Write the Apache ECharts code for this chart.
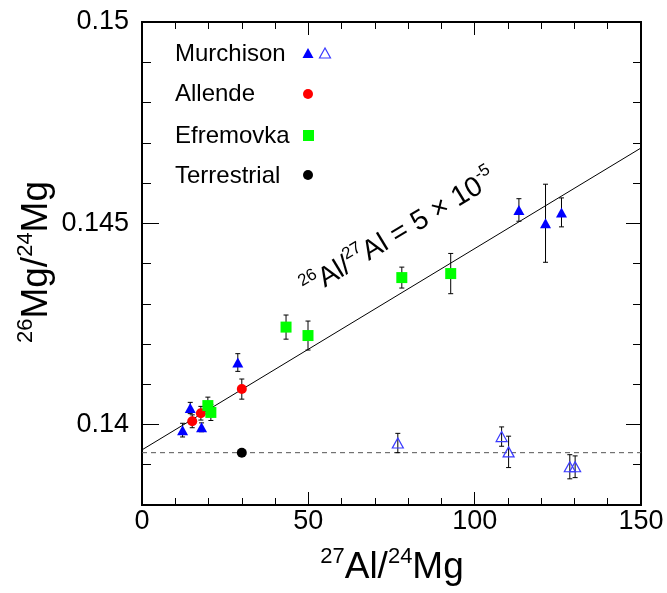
<!DOCTYPE html>
<html>
<head>
<meta charset="utf-8">
<script src="https://cdn.jsdelivr.net/npm/echarts@6/dist/echarts.min.js"></script>
<style>html,body{margin:0;padding:0;background:#fff}#c{width:667px;height:593px}</style>
</head>
<body>
<div id="c"></div>
<script>
// ---- data ----
const murchFilledX = [12.2, 14.5, 17.9, 28.8, 113.3, 121.3, 126.1];
const murchFilledY = [0.13986, 0.14041, 0.13993, 0.14154, 0.14533, 0.14500, 0.14527];
const murchFilledErr = [0.00017, 0.00014, 0.00011, 0.00022, 0.00028, 0.00097, 0.00036];
const murchOpenX = [76.9, 108.1, 110.2, 128.6, 130.2];
const murchOpenY = [0.13954, 0.13970, 0.13932, 0.13895, 0.13895];
const murchOpenErr = [0.00024, 0.00024, 0.00039, 0.00030, 0.00027];
const allendeX = [15.1, 17.7, 30.0];
const allendeY = [0.14008, 0.14028, 0.14088];
const allendeErr = [0.00016, 0.00017, 0.00025];
const efremX = [19.8, 20.7, 43.3, 49.9, 78.1, 92.8];
const efremY = [0.14047, 0.14030, 0.14242, 0.14221, 0.14365, 0.14375];
const efremErr = [0.00021, 0.00020, 0.00030, 0.00036, 0.00026, 0.00050];
const terrX = [30.0];
const terrY = [0.13930];
const isochronSlope = 5e-5;
const isochronIntercept = 0.13937;
const terrestrialRatio = 0.13930;
const yLabelValues = [0.14, 0.145, 0.15];
const yMajorTicks = [0.14, 0.145];
const legendNames = ['Murchison', 'Allende', 'Efremovka', 'Terrestrial'];

const FONT = 'Liberation Sans, Arial, Helvetica, sans-serif';
const zip = (xs, ys) => xs.map((x, i) => [x, ys[i]]);
const zip3 = (xs, ys, es) => xs.map((x, i) => [x, ys[i], es[i]]);

const errData = [].concat(
  zip3(murchFilledX, murchFilledY, murchFilledErr),
  zip3(murchOpenX, murchOpenY, murchOpenErr),
  zip3(allendeX, allendeY, allendeErr),
  zip3(efremX, efremY, efremErr)
);

const chart = echarts.init(document.getElementById('c'), null, {renderer: 'canvas'});

const baseX = {
  type: 'value', min: 0, max: 150, interval: 50,
  axisLine: {show: true, lineStyle: {color: '#000', width: 2}},
  axisTick: {show: true, inside: true, length: 13, lineStyle: {color: '#000', width: 1}},
  minorTick: {show: true, splitNumber: 5, length: 7, lineStyle: {color: '#000', width: 1}},
  splitLine: {show: false}, minorSplitLine: {show: false}
};
function yAx(pos, ticks, len, labels) {
  const a = {
    type: 'value', min: 0.138, max: 0.15, interval: 0.001, position: pos,
    axisLine: {show: true, onZero: false, lineStyle: {color: '#000', width: 2}},
    axisTick: {show: true, inside: true, length: len, lineStyle: {color: '#000', width: 1}},
    splitLine: {show: false},
    axisLabel: {show: false}
  };
  if (ticks) a.axisTick.customValues = ticks;
  if (labels) {
    a.axisLabel = {show: true, customValues: yLabelValues, fontSize: 27, color: '#000',
      fontFamily: FONT, margin: 13, formatter: v => String(+v.toFixed(4))};
  }
  return a;
}

const option = {
  animation: false,
  grid: {left: 142, top: 22, width: 499, height: 483, containLabel: false},
  xAxis: [
    Object.assign({}, baseX, {position: 'bottom',
      axisLabel: {show: true, fontSize: 27, color: '#000', fontFamily: FONT, margin: 3}}),
    Object.assign({}, baseX, {position: 'top', axisLabel: {show: false}})
  ],
  yAxis: [
    yAx('left', null, 9, true),
    yAx('left', yMajorTicks, 17, false),
    yAx('right', null, 8, false),
    yAx('right', yMajorTicks, 15, false)
  ],
  series: [
    {type: 'line', data: [[0, isochronIntercept], [150, isochronIntercept + 150 * isochronSlope]],
      symbol: 'none', lineStyle: {color: '#000', width: 1}, z: 1},
    {type: 'line', data: [[0, terrestrialRatio], [150, terrestrialRatio]],
      symbol: 'none', lineStyle: {color: '#555', width: 1, type: [5, 4]}, z: 1},
    {type: 'custom', data: errData, z: 2,
      renderItem: function (params, api) {
        const x = api.value(0), y = api.value(1), e = api.value(2);
        const top = api.coord([x, y + e]);
        const bot = api.coord([x, y - e]);
        const cw = 2.5;
        const st = {stroke: '#000', lineWidth: 1};
        return {type: 'group', children: [
          {type: 'line', shape: {x1: top[0], y1: top[1], x2: bot[0], y2: bot[1]}, style: st},
          {type: 'line', shape: {x1: top[0] - cw, y1: top[1], x2: top[0] + cw, y2: top[1]}, style: st},
          {type: 'line', shape: {x1: bot[0] - cw, y1: bot[1], x2: bot[0] + cw, y2: bot[1]}, style: st}
        ]};
      }},
    {type: 'scatter', name: 'Murchison', data: zip(murchFilledX, murchFilledY), symbol: 'triangle',
      symbolSize: [11, 10], itemStyle: {color: '#0000ff', opacity: 1}, z: 3},
    {type: 'scatter', name: 'Murchison open', data: zip(murchOpenX, murchOpenY), symbol: 'triangle',
      symbolSize: [11, 10], itemStyle: {color: 'rgba(0,0,0,0)', borderColor: '#3a3aff', borderWidth: 1.2, opacity: 1}, z: 3},
    {type: 'scatter', name: 'Allende', data: zip(allendeX, allendeY), symbol: 'circle',
      symbolSize: 10, itemStyle: {color: '#ff0000', opacity: 1}, z: 3},
    {type: 'scatter', name: 'Efremovka', data: zip(efremX, efremY), symbol: 'rect',
      symbolSize: 11, itemStyle: {color: '#00ff00', opacity: 1}, z: 3},
    {type: 'scatter', name: 'Terrestrial', data: zip(terrX, terrY), symbol: 'circle',
      symbolSize: 10, itemStyle: {color: '#000', opacity: 1}, z: 3}
  ],
  graphic: []
};

// legend (drawn as graphics)
const legY = [53, 93.5, 135, 175];
const g = [];
legendNames.forEach((n, i) => {
  g.push({type: 'text', x: 175, y: legY[i] + 1, style: {text: n, fontSize: 24, fontFamily: FONT, fill: '#000', verticalAlign: 'middle'}});
});
g.push({type: 'polygon', shape: {points: [[308, 48], [302.5, 58], [313.5, 58]]}, style: {fill: '#0000ff'}});
g.push({type: 'polygon', shape: {points: [[325, 48], [319.5, 58], [330.5, 58]]}, style: {fill: 'none', stroke: '#3a3aff', lineWidth: 1.2}});
g.push({type: 'circle', shape: {cx: 308, cy: 94, r: 5}, style: {fill: '#ff0000'}});
g.push({type: 'rect', shape: {x: 303, y: 130, width: 11, height: 11}, style: {fill: '#00ff00'}});
g.push({type: 'circle', shape: {cx: 308, cy: 175, r: 5}, style: {fill: '#000'}});

const supRich = {
  n: {fontSize: 37, fontFamily: FONT, fill: '#000', lineHeight: 40, verticalAlign: 'bottom'},
  s: {fontSize: 22, fontFamily: FONT, fill: '#000', lineHeight: 22, verticalAlign: 'top'}
};
// axis titles
g.push({type: 'text', x: 392, y: 566, style: {text: '{s|27}{n|Al/}{s|24}{n|Mg}', rich: supRich, align: 'center', verticalAlign: 'middle'}});
g.push({type: 'text', x: 35, y: 262, rotation: Math.PI / 2, style: {text: '{s|26}{n|Mg/}{s|24}{n|Mg}', rich: supRich, align: 'center', verticalAlign: 'middle'}});
// isochron annotation
const annRich = {
  n: {fontSize: 28, fontFamily: FONT, fill: '#000', lineHeight: 32, verticalAlign: 'bottom'},
  s: {fontSize: 17, fontFamily: FONT, fill: '#000', lineHeight: 17, verticalAlign: 'top'}
};
g.push({type: 'text', x: 398, y: 232, rotation: Math.atan2(2.0125, 3.327),
  style: {text: '{s|26}{n|Al/}{s|27}{n|Al = 5 \u00d7 10}{s|-5}', rich: annRich, align: 'center', verticalAlign: 'middle'}});
option.graphic = g;

chart.setOption(option);
</script>
</body>
</html>
